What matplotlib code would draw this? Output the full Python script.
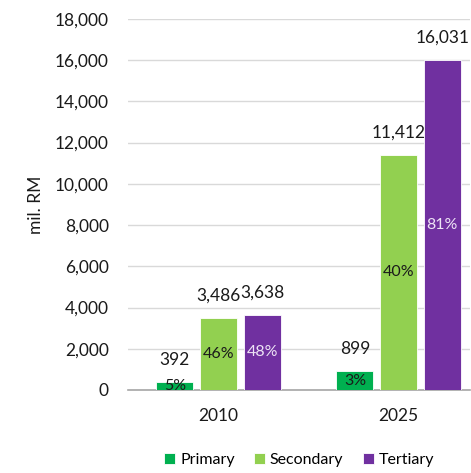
import numpy as np
import matplotlib.pyplot as plt
from matplotlib.ticker import FuncFormatter

# datos
years = ['2010', '2025']
sectors = ['Primary', 'Secondary', 'Tertiary']
primary = [392, 899]
secondary = [3486, 11412]
tertiary = [3638, 16031]
primary_pct = ['5%', '3%']
secondary_pct = ['46%', '40%']
tertiary_pct = ['48%', '81%']

colors = ['#00B050', '#92D050', '#7030A0']
pct_colors = ['#1a1a1a', '#1a1a1a', '#EDE3F5']

plt.rcParams['font.family'] = ['Lato', 'DejaVu Sans']

fig = plt.figure(figsize=(4.71, 4.73), dpi=100)
ax = fig.add_axes([0.272, 0.1755, 0.726, 0.7845])

x = np.arange(len(years))
width = 0.205
offset = 0.243

series = [primary, secondary, tertiary]
pcts = [primary_pct, secondary_pct, tertiary_pct]
for i, (vals, lab) in enumerate(zip(series, sectors)):
    pos = x + (i - 1) * offset
    bars = ax.bar(pos, vals, width, color=colors[i], label=lab,
                  edgecolor='white', linewidth=0.6, zorder=3)
    for b, v, p in zip(bars, vals, pcts[i]):
        cx = b.get_x() + b.get_width() / 2
        # valor encima de la barra, porcentaje en el centro
        ax.annotate(f'{v:,}', (cx, v), xytext=(0, 16), textcoords='offset points',
                    ha='center', va='center', fontsize=12.5, color='#1a1a1a', zorder=5)
        ax.text(cx, v / 2, p, ha='center', va='center', fontsize=11.5,
                color=pct_colors[i], zorder=5)

ax.set_ylim(0, 18000)
ax.set_yticks(np.arange(0, 18001, 2000))
ax.yaxis.set_major_formatter(FuncFormatter(lambda v, _: f'{int(v):,}'))
ax.set_xlim(-0.503, 1.397)
ax.set_xticks(x)
ax.set_xticklabels(years)

ax.grid(axis='y', color='#D9D9D9', linewidth=1, zorder=0)
for s in ['top', 'right', 'left']:
    ax.spines[s].set_visible(False)
ax.spines['bottom'].set_color('#A6A6A6')
ax.spines['bottom'].set_linewidth(1.2)
ax.tick_params(axis='both', length=0, labelsize=12.5, labelcolor='#1a1a1a')
ax.tick_params(axis='y', pad=14)
ax.tick_params(axis='x', pad=13)

ax.set_ylabel('mil. RM', fontsize=12.5, color='#1a1a1a', labelpad=8)

fig.legend(loc='center', bbox_to_anchor=(0.635, 0.027), ncol=3, frameon=False,
           fontsize=11.5, handlelength=0.7, handleheight=0.7, handletextpad=0.3,
           columnspacing=1.2)

fig.savefig('out.png', dpi=100)
